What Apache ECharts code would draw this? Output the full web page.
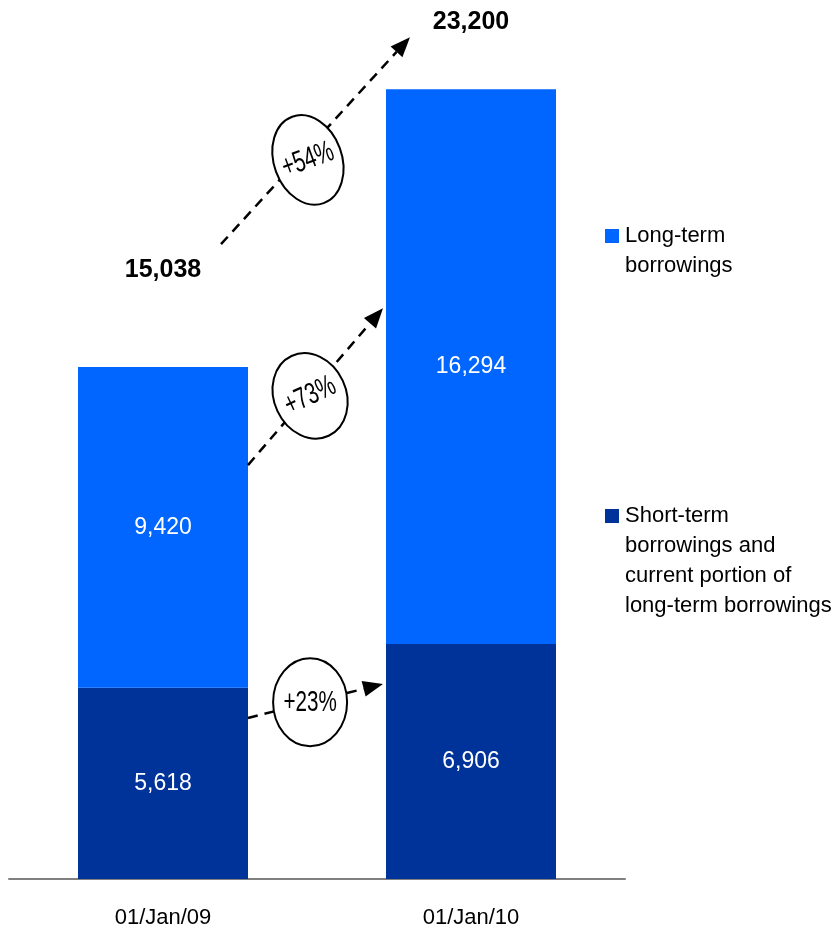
<!DOCTYPE html>
<html><head><meta charset="utf-8">
<script src="https://cdn.jsdelivr.net/npm/echarts@6/dist/echarts.min.js"></script>
<style>html,body{margin:0;padding:0;background:#fff}#c{width:832px;height:931px}</style>
</head><body><div id="c"></div>
<script>
const categories = ['01/Jan/09', '01/Jan/10'];
const shortTerm = [5618, 6906];
const longTerm = [9420, 16294];
const totals = [15038, 23200];
const seriesNames = ['Short-term\nborrowings and\ncurrent portion of\nlong-term borrowings', 'Long-term\nborrowings'];
const seriesColors = ['#003399', '#0066FF'];
// growth annotations: [label, from value (cat 0), to value (cat 1)]
const growthLabels = ['+54%', '+73%', '+23%'];
const growthFrom = [18650, 12160, 4730];
const growthTo = [24730, 16770, 5730];

const FONT = '"Liberation Sans Narrow", "Liberation Sans", Arial, sans-serif';
const chart = echarts.init(document.getElementById('c'));
const labelStyle = {show: true, position: 'inside', color: '#fff', fontSize: 23, fontFamily: FONT,
  formatter: p => p.value.toLocaleString('en-US')};
chart.setOption({
  animation: false,
  grid: {left: 9, right: 207, top: 28, bottom: 52},
  xAxis: {type: 'category', data: categories,
    axisLine: {lineStyle: {color: '#808080', width: 2}}, axisTick: {show: false},
    axisLabel: {fontSize: 22, color: '#000', fontFamily: FONT, margin: 28}},
  yAxis: {type: 'value', min: 0, max: 25000, show: false},
  series: [
    {name: seriesNames[0], type: 'bar', stack: 't', data: shortTerm, barWidth: 170,
     itemStyle: {color: seriesColors[0]}, label: labelStyle},
    {name: seriesNames[1], type: 'bar', stack: 't', data: longTerm, barWidth: 170,
     itemStyle: {color: seriesColors[1]}, label: labelStyle}
  ]
});

const px = (c, v) => chart.convertToPixel({gridIndex: 0}, [c, v]);
const g = [];
// totals
const tOff = [97, 67];
totals.forEach((t, i) => {
  const p = px(i, t);
  g.push({type: 'text', x: p[0], y: p[1] - tOff[i], style: {text: t.toLocaleString('en-US'),
    font: 'bold 25px ' + FONT, fill: '#000', align: 'center', verticalAlign: 'middle'}});
});
// arrows
const startDx = [58, 85, 85];
const endDx = [-61, -88, -88];
const ell = [[34, 46, 20, 11], [36, 44, 25, 3], [37, 44, 0, 0]];
growthLabels.forEach((lab, i) => {
  const a = px(0, growthFrom[i]); a[0] += startDx[i];
  const b = px(1, growthTo[i]); b[0] += endDx[i];
  const ang = Math.atan2(b[1] - a[1], b[0] - a[0]);
  const hl = 20, hw = 8;
  const bx = b[0] - hl * Math.cos(ang), by = b[1] - hl * Math.sin(ang);
  g.push({type: 'line', shape: {x1: a[0], y1: a[1], x2: bx, y2: by},
    style: {stroke: '#000', lineWidth: 2.5, lineDash: [10, 7]}, z: 10});
  g.push({type: 'polygon', shape: {points: [[b[0], b[1]],
    [bx + hw * Math.sin(ang), by - hw * Math.cos(ang)],
    [bx - hw * Math.sin(ang), by + hw * Math.cos(ang)]]}, style: {fill: '#000'}, z: 10});
  const t = 0.46;
  const cx = a[0] + t * (b[0] - a[0]), cy = a[1] + t * (b[1] - a[1]) + ell[i][3];
  const rot = ell[i][2] * Math.PI / 180;
  g.push({type: 'ellipse', x: cx, y: cy, rotation: rot, shape: {cx: 0, cy: 0, rx: ell[i][0], ry: ell[i][1]},
    style: {fill: '#fff', stroke: '#000', lineWidth: 2}, z: 11});
  g.push({type: 'text', x: cx, y: cy, rotation: rot, scaleX: 0.86, scaleY: 1.25,
    style: {text: lab, font: '24px ' + FONT,
    fill: '#000', align: 'center', verticalAlign: 'middle'}, z: 12});
});
// legend
const legY = [[236, 1], [516, 0]];
legY.forEach(([y, si]) => {
  g.push({type: 'rect', shape: {x: 605, y: y - 7, width: 14, height: 14}, style: {fill: seriesColors[si]}});
  g.push({type: 'text', x: 625, y: y - 15, style: {text: seriesNames[si], font: '22px ' + FONT,
    fill: '#000', lineHeight: 30, align: 'left', verticalAlign: 'top'}});
});
chart.setOption({graphic: g});
</script></body></html>
